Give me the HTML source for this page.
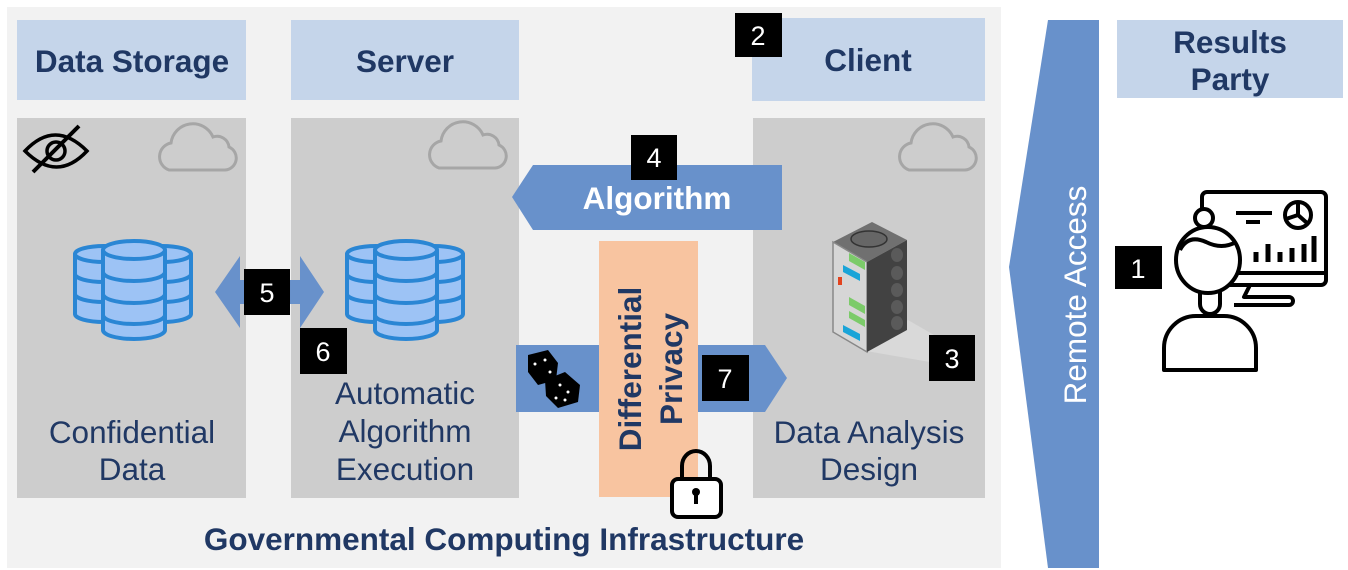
<!DOCTYPE html>
<html><head><meta charset="utf-8"><style>
html,body{margin:0;padding:0;background:#fff;}
svg{display:block;font-family:"Liberation Sans",Arial,sans-serif;}
</style></head><body>
<svg width="1348" height="570" viewBox="0 0 1348 570" xmlns="http://www.w3.org/2000/svg">
<defs>
<g id="cloud"><path d="M10,50 a14,14 0 0 1 2,-27 a22,22 0 0 1 42,-6 a12,12 0 0 1 16,10 a12,12 0 0 1 -4,23 z" fill="none" stroke="#a6a6a6" stroke-width="3"/></g>
<g id="db" fill="#9dc3f5" stroke="#2a86d4" stroke-width="4">
<g id="side">
<path d="M0,14 v60 a29,8 0 0 0 58,0 v-60"/>
<ellipse cx="29" cy="14" rx="29" ry="8"/>
<path d="M0,34 a29,8 0 0 0 58,0 M0,54 a29,8 0 0 0 58,0" fill="none"/>
</g>
<use href="#side" x="58"/>
<path d="M28,10 v80 a31,9 0 0 0 62,0 v-80"/>
<ellipse cx="59" cy="10" rx="31" ry="9"/>
<path d="M28,32 a31,9 0 0 0 62,0 M28,54 a31,9 0 0 0 62,0 M28,75 a31,9 0 0 0 62,0" fill="none"/>
</g>
</defs>
<rect x="7" y="7" width="994" height="561" fill="#f2f2f2"/>
<!-- headers -->
<rect x="17" y="20" width="229" height="80" fill="#c5d5ea"/>
<rect x="291" y="20" width="228" height="80" fill="#c5d5ea"/>
<rect x="752" y="18" width="233" height="83" fill="#c5d5ea"/>
<rect x="1117" y="20" width="226" height="78" fill="#c5d5ea"/>
<g font-weight="bold" font-size="31.5" fill="#203864" text-anchor="middle">
<text x="132" y="72">Data Storage</text>
<text x="405" y="72">Server</text>
<text x="868" y="71">Client</text>
<text x="1230" y="53">Results</text>
<text x="1230" y="90">Party</text>
</g>
<!-- columns -->
<rect x="17" y="118" width="229" height="380" fill="#cdcdcd"/>
<rect x="291" y="118" width="228" height="380" fill="#cdcdcd"/>
<rect x="753" y="118" width="232" height="380" fill="#cdcdcd"/>
<use href="#cloud" x="159" y="120"/>
<use href="#cloud" x="429" y="118"/>
<use href="#cloud" x="899" y="120"/>
<!-- eye crossed -->
<g fill="none" stroke="#000" stroke-width="3.5">
<path d="M25,151 q30,-32 62,0 q-30,32 -62,0 z"/>
<circle cx="56" cy="151" r="9"/>
<line x1="33" y1="172" x2="79" y2="126" stroke-width="4"/>
</g>
<!-- dbs -->
<use href="#db" x="75" y="240"/>
<use href="#db" x="347" y="240"/>
<!-- arrow 5 -->
<polygon points="215,292 240,256 240,280 300,280 300,256 324,292 300,328 300,304 240,304 240,328" fill="#6891cb"/>
<!-- algorithm arrow -->
<polygon points="512,197 533,165 782,165 782,230 533,230" fill="#6891cb"/>
<text x="657" y="209" font-weight="bold" font-size="31.5" fill="#fff" text-anchor="middle">Algorithm</text>
<!-- bottom arrow -->
<polygon points="516,345 765,345 787,378 765,412 516,412" fill="#6891cb"/>
<!-- dice -->
<g fill="#000">
<polygon points="528,355 548,350 558,363 556,380 538,385 528,372"/>
<polygon points="545,380 565,372 580,385 578,402 558,408 546,396"/>
</g>
<g fill="#fff"><circle cx="535" cy="364" r="1.5"/><circle cx="545" cy="360" r="1.5"/><circle cx="550" cy="372" r="1.5"/><circle cx="560" cy="385" r="1.5"/><circle cx="568" cy="392" r="1.5"/><circle cx="556" cy="398" r="1.5"/><circle cx="565" cy="400" r="1.5"/></g>
<!-- DP box -->
<rect x="599" y="241" width="99" height="256" fill="#f8c4a0"/>
<g font-weight="bold" font-size="31.5" fill="#203864" text-anchor="middle">
<text transform="translate(641,369) rotate(-90)">Differential</text>
<text transform="translate(682,369) rotate(-90)">Privacy</text>
</g>
<!-- lock -->
<g fill="none" stroke="#000" stroke-width="4">
<path d="M682,480 v-14 a14,15 0 0 1 28,0 v14"/>
<rect x="672" y="479" width="49" height="38" rx="6" fill="#fff"/>
</g>
<circle cx="696" cy="492" r="4"/><rect x="694" y="492" width="4" height="12"/>
<!-- server tower -->
<polygon points="908,320 960,350 930,362 860,350" fill="#dedede" opacity="0.7"/>
<polygon points="833,242 872,222 907,240 867,262" fill="#707070"/>
<ellipse cx="869" cy="239" rx="18" ry="8" fill="#666" stroke="#333" stroke-width="1.5"/>
<polygon points="833,242 867,262 867,352 833,332" fill="#d6d6d6" stroke="#888" stroke-width="1.5"/>
<polygon points="867,262 907,240 907,330 867,352" fill="#424242"/>
<g fill="#5a5a5a"><ellipse cx="897" cy="255" rx="6" ry="7"/><ellipse cx="897" cy="273" rx="6" ry="7"/><ellipse cx="897" cy="290" rx="6" ry="7"/><ellipse cx="897" cy="307" rx="6" ry="7"/><ellipse cx="897" cy="323" rx="6" ry="7"/></g>
<polygon points="849,253 865,262 865,270 849,261" fill="#7ccb6a"/>
<polygon points="843,265 860,274 860,281 843,272" fill="#1aa4d8"/>
<rect x="838" y="277" width="4" height="8" fill="#e2431e"/>
<polygon points="849,297 865,306 865,314 849,305" fill="#7ccb6a"/>
<polygon points="849,311 865,320 865,327 849,318" fill="#7ccb6a"/>
<polygon points="843,325 860,334 860,341 843,332" fill="#1aa4d8"/>
<!-- column texts -->
<g font-size="31.5" fill="#203864" text-anchor="middle">
<text x="132" y="443">Confidential</text>
<text x="132" y="480">Data</text>
<text x="405" y="404">Automatic</text>
<text x="405" y="442">Algorithm</text>
<text x="405" y="480">Execution</text>
<text x="869" y="443">Data Analysis</text>
<text x="869" y="480">Design</text>
</g>
<text x="504" y="550" font-weight="bold" font-size="31.5" fill="#203864" text-anchor="middle">Governmental Computing Infrastructure</text>
<!-- remote access -->
<polygon points="1048,20 1099,20 1099,568 1048,568 1009,267" fill="#6891cb"/>
<text transform="translate(1086,295) rotate(-90)" font-size="31.5" fill="#fff" text-anchor="middle">Remote Access</text>
<!-- person -->
<g fill="none" stroke="#000" stroke-width="4" stroke-linejoin="round">
<rect x="1202" y="192" width="124" height="93" rx="5" fill="#fff"/>
<line x1="1202" y1="273" x2="1326" y2="273"/>
<path d="M1250,285 l-6,12 h45 a4,4 0 0 1 0,8 h-55"/>
<line x1="1236" y1="213" x2="1272" y2="213"/><line x1="1246" y1="222" x2="1260" y2="222"/>
<circle cx="1298" cy="215" r="13"/><path d="M1298,202 v13 l9,8 M1298,215 l-12,4"/>
<path d="M1256,262 v-10 M1268,262 v-18 M1280,262 v-10 M1292,262 v-14 M1304,262 v-18 M1314,262 v-26" stroke-width="5"/>
<path d="M1164,370 v-22 a32,32 0 0 1 32,-32 h28 a32,32 0 0 1 32,32 v22 z" fill="#fff"/>
<path d="M1200,292 v12 a10,10 0 0 0 20,0 v-12"/>
<circle cx="1204" cy="218" r="9" fill="#fff"/>
<ellipse cx="1208" cy="260" rx="32" ry="33" fill="#fff"/>
<path d="M1180,250 q8,-16 26,-8 q16,8 30,0"/>
</g>
<!-- number labels -->
<g fill="#000">
<rect x="735" y="13" width="47" height="44"/>
<rect x="631" y="135" width="46" height="45"/>
<rect x="244" y="269" width="46" height="46"/>
<rect x="300" y="328" width="47" height="46"/>
<rect x="702" y="355" width="47" height="46"/>
<rect x="929" y="335" width="46" height="46"/>
<rect x="1115" y="246" width="47" height="43"/>
</g>
<g font-size="27" fill="#fff" text-anchor="middle">
<text x="758" y="45">2</text>
<text x="654" y="167">4</text>
<text x="267" y="302">5</text>
<text x="323" y="361">6</text>
<text x="725" y="388">7</text>
<text x="952" y="368">3</text>
<text x="1138" y="278">1</text>
</g>
</svg>
</body></html>
